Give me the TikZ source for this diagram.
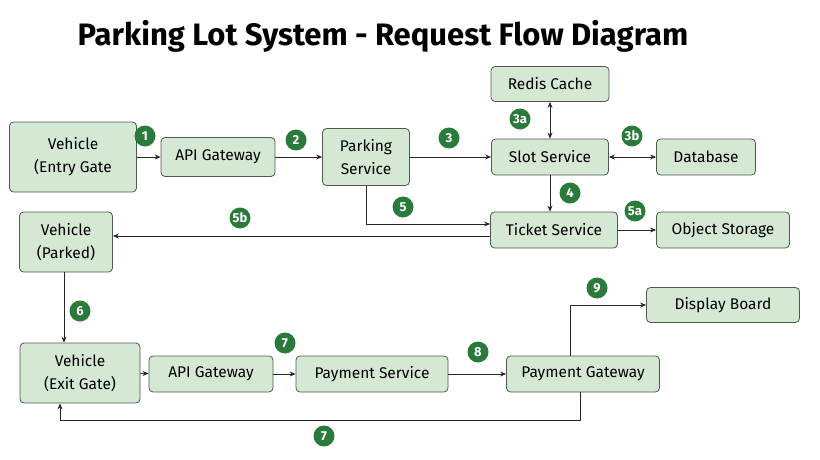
\documentclass[tikz,border=0pt]{standalone}
\usepackage{fontspec}
\setmainfont{Fira Sans}[BoldFont=Fira Sans Bold]
\usetikzlibrary{arrows.meta}
\definecolor{boxfill}{HTML}{D5E8D4}
\definecolor{boxline}{HTML}{4D5A4D}
\definecolor{badge}{HTML}{2A7A3B}
\begin{document}
\begin{tikzpicture}[x=1pt,y=-1pt,
  box/.style={draw=boxline,fill=boxfill,rounded corners=4pt,line width=0.8pt,font=\fontsize{15.5}{23}\selectfont,align=center,inner sep=0pt},
  num/.style={circle,fill=badge,text=white,inner sep=0pt,minimum size=21pt,font=\fontsize{13}{14}\selectfont\bfseries},
  arr/.style={-{Stealth[length=6pt,width=5pt]},line width=0.8pt,draw=black!85},
  darr/.style={{Stealth[length=6pt,width=5pt]}-{Stealth[length=6pt,width=5pt]},line width=0.8pt,draw=black!85}]
\useasboundingbox (0,0) rectangle (820,460);
\node[font=\fontsize{31}{34}\selectfont\bfseries] (title) at (383,36) {Parking Lot System - Request Flow Diagram};
\node[box,minimum width=127pt,minimum height=70pt] (entry) at (73,157) {Vehicle\\(Entry Gate};
\node[box,minimum width=114pt,minimum height=39pt] (api1) at (218,157) {API Gateway};
\node[box,minimum width=87pt,minimum height=57pt] (park) at (366,157) {Parking\\Service};
\node[box,minimum width=117pt,minimum height=36pt] (slot) at (550,157) {Slot Service};
\node[box,minimum width=118pt,minimum height=35pt] (redis) at (550,84) {Redis Cache};
\node[box,minimum width=99pt,minimum height=36pt] (db) at (706,157) {Database};
\node[box,minimum width=127pt,minimum height=36pt] (ticket) at (554,230) {Ticket Service};
\node[box,minimum width=133pt,minimum height=36pt] (obj) at (723,230) {Object Storage};
\node[box,minimum width=93pt,minimum height=60pt] (parked) at (66,242) {Vehicle\\(Parked)};
\node[box,minimum width=120pt,minimum height=60pt] (exit) at (80,373) {Vehicle\\(Exit Gate)};
\node[box,minimum width=124pt,minimum height=36pt] (api2) at (211,374) {API Gateway};
\node[box,minimum width=152pt,minimum height=36pt] (pay) at (372,374) {Payment Service};
\node[box,minimum width=153pt,minimum height=36pt] (pgw) at (583,374) {Payment Gateway};
\node[box,minimum width=153pt,minimum height=35pt] (disp) at (723,305) {Display Board};
\coordinate (c1) at (60,420);
\draw[arr] (entry) -- (api1);
\draw[arr] (api1) -- (park);
\draw[arr] (park) -- (slot);
\draw[darr] (redis) -- (slot);
\draw[darr] (slot) -- (db);
\draw[arr] (slot) -- (slot|-ticket.north);
\draw[arr] (park.south) |- ([yshift=6pt]ticket.west);
\draw[arr] ([yshift=-6pt]ticket.west) -- ([yshift=-6pt]ticket.west-|parked.east);
\draw[arr] (ticket) -- (obj);
\draw[arr] (parked.south-|64,0) -- (exit.north-|64,0);
\draw[arr] (exit) -- (api2);
\draw[arr] (api2) -- (pay);
\draw[arr] (pay) -- (pgw);
\draw[arr] (pgw.north-|570,0) |- (disp.west);
\draw[arr] (pgw.south-|580,0) |- (c1) -- (exit.south-|c1);
\node[num] (n1) at (145,136) {1};
\node[num] (n2) at (296,140) {2};
\node[num] (n3) at (449,138) {3};
\node[num] (n3a) at (520,119) {3a};
\node[num] (n3b) at (632,136) {3b};
\node[num] (n4) at (570,193) {4};
\node[num] (n5) at (403,207) {5};
\node[num] (n5a) at (635,211) {5a};
\node[num] (n5b) at (240,218) {5b};
\node[num] (n6) at (80,311) {6};
\node[num] (n7) at (285,343) {7};
\node[num] (n8) at (478,352) {8};
\node[num] (n9) at (597,288) {9};
\node[num] (n7b) at (324,436) {7};
\end{tikzpicture}
\end{document}
